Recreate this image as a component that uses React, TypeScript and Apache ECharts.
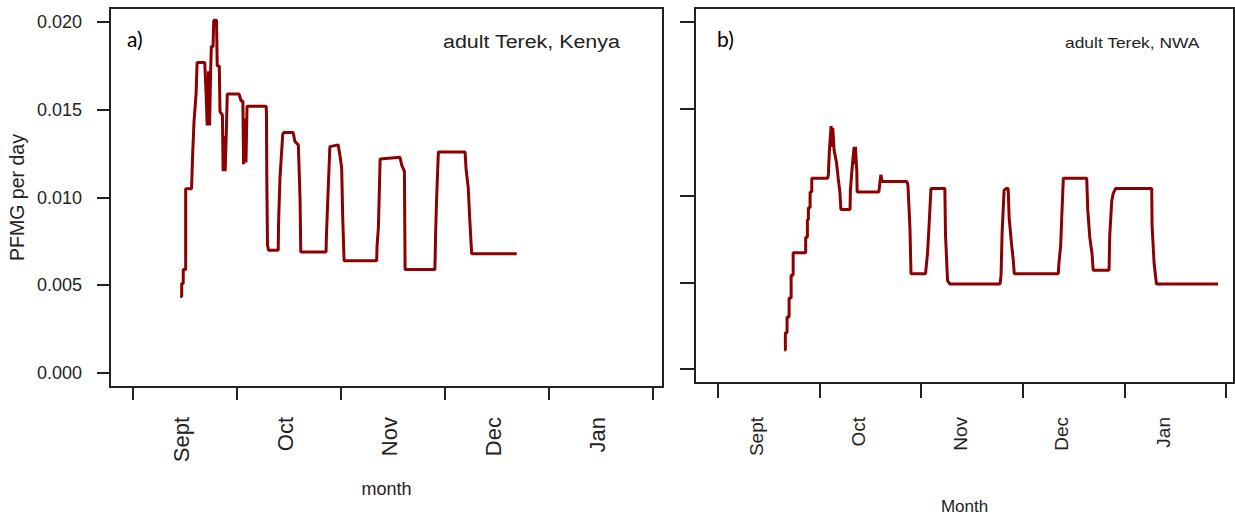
import React, { useEffect, useRef } from "react";
import * as echarts from "echarts";

// Season runs from 1 Sept; each month drawn as 30 days.
const monthNames = ["Sept", "Oct", "Nov", "Dec", "Jan"];
const monthStarts = [0, 30, 60, 90, 120, 150];
const yTicks = [0, 0.005, 0.01, 0.015, 0.02];

// [day of season, PFMG per day]
const kenya: [number, number][] = [
  [13.6, 0.00436], [14.05, 0.00436], [14.05, 0.0051], [14.5, 0.0051], [14.5, 0.0059],
  [15.2, 0.0059], [15.2, 0.0105], [16.9, 0.0105], [17.2, 0.0124], [17.6, 0.0143],
  [18.2, 0.0159], [18.5, 0.0177], [20.7, 0.0177], [21.1, 0.0159], [21.4, 0.0141],
  [21.8, 0.0172], [22.1, 0.0141], [22.4, 0.0172], [22.6, 0.0186], [23.1, 0.0186],
  [23.3, 0.0201], [24.1, 0.0201], [24.3, 0.0175], [24.9, 0.0175], [25.1, 0.0149],
  [25.8, 0.0147], [26.0, 0.0115], [26.3, 0.0135], [26.6, 0.0115], [26.9, 0.0135],
  [27.2, 0.0159], [30.6, 0.0159], [31.2, 0.0155], [31.7, 0.0155], [31.9, 0.0119],
  [32.3, 0.0145], [32.6, 0.012], [32.9, 0.0152], [38.4, 0.0152], [38.5, 0.0149],
  [38.6, 0.0112], [38.8, 0.0073], [39.1, 0.007], [41.9, 0.007], [42.0, 0.0086],
  [42.4, 0.0111], [43.2, 0.0136], [43.5, 0.0137], [46.2, 0.0137], [46.7, 0.0132],
  [47.7, 0.013], [48.2, 0.0099], [48.4, 0.0069], [55.7, 0.0069], [55.8, 0.0078],
  [56.3, 0.0104], [56.8, 0.0129], [59.2, 0.013], [59.7, 0.0124], [60.2, 0.0117],
  [60.5, 0.0089], [60.9, 0.0064], [70.3, 0.0064], [70.4, 0.0072], [70.8, 0.0083],
  [71.3, 0.0122], [77.0, 0.0123], [77.6, 0.0118], [78.3, 0.0115], [78.5, 0.0059],
  [87.1, 0.0059], [87.3, 0.0079], [87.6, 0.01], [88.1, 0.0126], [95.8, 0.0126],
  [96.1, 0.0116], [96.7, 0.0106], [97.2, 0.0086], [97.7, 0.0068], [110.7, 0.0068],
];

const nwa: [number, number][] = [
  [19.6, 0.0011], [19.9, 0.0011], [19.9, 0.0021], [20.4, 0.0021], [20.4, 0.003],
  [21.0, 0.003], [21.0, 0.0041], [21.6, 0.0041], [21.6, 0.0054], [22.2, 0.0054],
  [22.2, 0.0067], [25.9, 0.0067], [25.9, 0.0076], [26.4, 0.0076], [26.4, 0.0086],
  [26.7, 0.0086], [26.7, 0.0093], [27.2, 0.0093], [27.2, 0.0102], [27.7, 0.0102],
  [27.7, 0.011], [32.4, 0.011], [32.6, 0.0112], [32.9, 0.0126], [33.4, 0.014],
  [33.7, 0.0128], [33.9, 0.0139], [34.3, 0.0126], [35.0, 0.0119], [35.5, 0.011],
  [36.0, 0.0102], [36.3, 0.0092], [39.0, 0.0092], [39.1, 0.0103], [39.5, 0.0113],
  [39.8, 0.012], [40.2, 0.0128], [40.4, 0.0118], [40.6, 0.0128], [41.0, 0.0114],
  [41.1, 0.0102], [47.5, 0.0102], [47.8, 0.0107], [48.1, 0.0112], [48.5, 0.0108],
  [55.8, 0.0108], [56.1, 0.0106], [56.7, 0.0081], [57.0, 0.0055], [61.3, 0.0055],
  [61.6, 0.0061], [61.9, 0.0067], [62.4, 0.0085], [62.9, 0.0104], [67.0, 0.0104],
  [67.2, 0.0077], [67.8, 0.0051], [68.5, 0.0049], [83.3, 0.0049], [83.6, 0.0054],
  [83.9, 0.0078], [84.5, 0.0103], [85.2, 0.0104], [85.7, 0.0104], [86.0, 0.0087],
  [86.7, 0.0072], [87.2, 0.0063], [87.5, 0.0055], [100.5, 0.0055], [100.7, 0.0061],
  [101.2, 0.0071], [101.5, 0.0086], [102.0, 0.011], [108.9, 0.011], [109.2, 0.0092],
  [109.8, 0.0076], [110.5, 0.0066], [110.8, 0.0057], [115.5, 0.0057], [115.7, 0.0077],
  [116.3, 0.0097], [116.7, 0.0101], [117.4, 0.0104], [128.1, 0.0104], [128.2, 0.0083],
  [128.8, 0.0061], [129.5, 0.0049], [147.7, 0.0049],
];

const INK = "#222";
const LINE = "#8b0000";
const FONT = "'Liberation Sans', Arial, sans-serif";
const TAG_FONT = "Lato, 'Open Sans', sans-serif";

function monthAxis(gridIndex: number, min: number, max: number, labelAt: number[], opts: any) {
  return {
    type: "value",
    gridIndex,
    min,
    max,
    axisLine: { show: false, onZero: false },
    splitLine: { show: false },
    axisTick: {
      show: true,
      length: opts.tickLen,
      lineStyle: { color: INK, width: 2 },
      customValues: monthStarts,
    },
    axisLabel: {
      customValues: labelAt,
      rotate: 90,
      margin: opts.margin,
      fontSize: opts.fontSize,
      fontFamily: FONT,
      color: INK,
      formatter: (v: number) => monthNames[labelAt.indexOf(v)] ?? "",
    },
    name: opts.name,
    nameLocation: "middle",
    nameGap: opts.nameGap,
    nameTextStyle: { fontSize: opts.nameSize, fontFamily: FONT, color: INK },
  };
}

function rateAxis(gridIndex: number, showLabels: boolean, tickLen: number) {
  return {
    type: "value",
    gridIndex,
    min: -0.0008,
    max: 0.0208,
    axisLine: { show: false, onZero: false },
    splitLine: { show: false },
    axisTick: {
      show: true,
      length: tickLen,
      lineStyle: { color: INK, width: 2 },
      customValues: yTicks,
    },
    axisLabel: {
      show: showLabels,
      customValues: yTicks,
      margin: 28,
      fontSize: 18,
      fontFamily: FONT,
      color: INK,
      formatter: (v: number) => v.toFixed(3),
    },
    name: showLabels ? "PFMG per day" : "",
    nameLocation: "middle",
    nameGap: 83,
    nameTextStyle: { fontSize: 19.5, fontFamily: FONT, color: INK },
  };
}

export default function App() {
  const ref = useRef<HTMLDivElement>(null);

  useEffect(() => {
    if (!ref.current) return;
    const chart = echarts.init(ref.current, null, { renderer: "svg" });
    const leftLabels = monthStarts.slice(0, 5).map((d) => d + 14);
    const rightLabels = monthStarts.slice(0, 5).map((d) => d + 11.5);

    chart.setOption({
      animation: false,
      backgroundColor: "#fff",
      grid: [
        { left: 110, top: 8, width: 553, height: 379, show: true, borderColor: INK, borderWidth: 2 },
        { left: 695, top: 8, width: 539, height: 379, show: true, borderColor: INK, borderWidth: 2 },
      ],
      xAxis: [
        monthAxis(0, -6.63, 152.9, leftLabels, {
          tickLen: 13, margin: 30, fontSize: 22, name: "month", nameGap: 93, nameSize: 18,
        }),
        monthAxis(1, -6.79, 152.4, rightLabels, {
          tickLen: 15, margin: 34, fontSize: 19, name: "Month", nameGap: 115, nameSize: 17,
        }),
      ],
      yAxis: [rateAxis(0, true, 13), rateAxis(1, false, 15)],
      series: [
        {
          type: "line",
          xAxisIndex: 0,
          yAxisIndex: 0,
          data: kenya,
          showSymbol: false,
          lineStyle: { color: LINE, width: 3 },
        },
        {
          type: "line",
          xAxisIndex: 1,
          yAxisIndex: 1,
          data: nwa,
          showSymbol: false,
          lineStyle: { color: LINE, width: 3 },
        },
      ],
      graphic: [
        { type: "text", x: 127, y: 28, style: { text: "a)", fontSize: 21, fontFamily: TAG_FONT, fill: "#000" } },
        { type: "text", x: 717, y: 28, style: { text: "b)", fontSize: 21, fontFamily: TAG_FONT, fill: "#000" } },
        {
          type: "text", x: 443, y: 33, scaleX: 1.19,
          style: { text: "adult Terek, Kenya", fontSize: 18, fontFamily: FONT, fill: INK },
        },
        {
          type: "text", x: 1065, y: 35, scaleX: 1.16,
          style: { text: "adult Terek, NWA", fontSize: 15, fontFamily: FONT, fill: INK },
        },
      ],
    });
    return () => chart.dispose();
  }, []);

  return (
    <div
      ref={ref}
      style={{ position: "fixed", left: 0, top: 0, width: 1235, height: 520 }}
    />
  );
}
